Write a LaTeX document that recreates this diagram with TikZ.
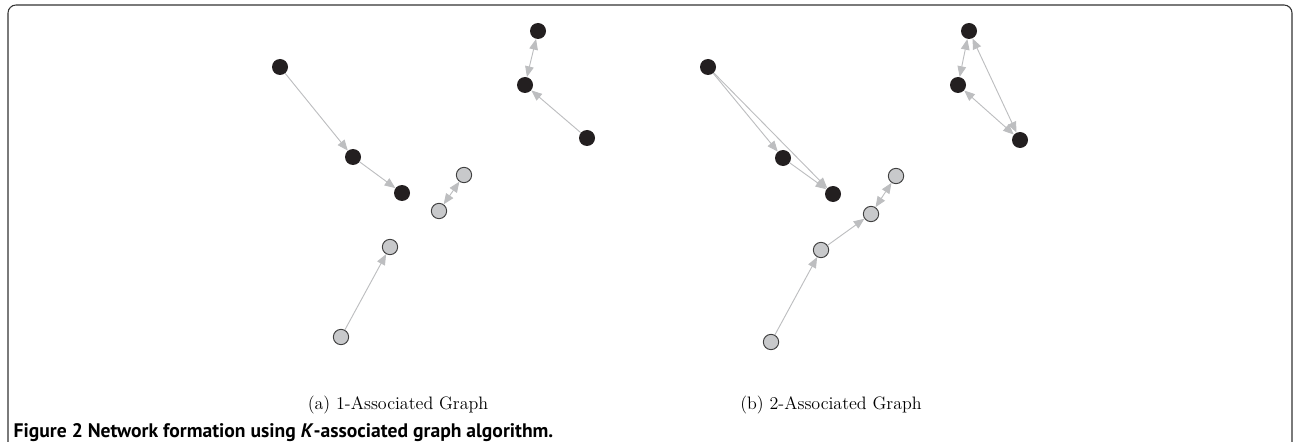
\documentclass[tikz,border=0pt]{standalone}
\usepackage{fontspec}
\newfontfamily\capfont{PT Sans}
\usepackage{tikz}
\usetikzlibrary{arrows.meta}

\definecolor{nodeblack}{HTML}{231F20}
\definecolor{nodegray}{HTML}{C8C9CB}
\definecolor{edgegray}{HTML}{BDBEC0}

\begin{document}
\begin{tikzpicture}[
    x=0.75pt, y=-0.75pt,
    blacknode/.style={circle, fill=nodeblack, inner sep=0pt, minimum size=12pt},
    graynode/.style={circle, draw=black!75, fill=nodegray, line width=0.7pt, inner sep=0pt, minimum size=11.5pt},
    line/.style={draw=edgegray, line width=0.7pt, -{Triangle[length=8pt,width=6.5pt,fill=edgegray]}},
    biline/.style={draw=edgegray, line width=0.7pt, {Triangle[length=8pt,width=6.5pt,fill=edgegray]}-{Triangle[length=8pt,width=6.5pt,fill=edgegray]}},
    subcap/.style={font=\fontsize{13.5}{16}\selectfont}
]
\useasboundingbox (0,0) rectangle (1294,442);

% Frame
\draw[black!80, line width=0.8pt, rounded corners=6pt] (8,443) -- (8,5) -- (1292,5) -- (1292,443);

% (a) 1-Associated Graph
\node[blacknode] (a1) at (280,67) {};
\node[blacknode] (a2) at (353,157) {};
\node[blacknode] (a3) at (402,193) {};
\node[blacknode] (a4) at (538,31) {};
\node[blacknode] (a5) at (525,85) {};
\node[blacknode] (a6) at (587,138) {};
\node[graynode] (g1) at (464,175) {};
\node[graynode] (g2) at (439,211) {};
\node[graynode] (g3) at (390,247) {};
\node[graynode] (g4) at (341,337) {};

\draw[line] (a1) -- (a2);
\draw[line] (a2) -- (a3);
\draw[biline] (a4) -- (a5);
\draw[line] (a6) -- (a5);
\draw[biline] (g1) -- (g2);
\draw[line] (g4) -- (g3);

% (b) 2-Associated Graph
\node[blacknode] (b1) at (708,67) {};
\node[blacknode] (b2) at (783,158) {};
\node[blacknode] (b3) at (833,194) {};
\node[blacknode] (b4) at (969,31) {};
\node[blacknode] (b5) at (958,85) {};
\node[blacknode] (b6) at (1020,140) {};
\node[graynode] (h1) at (896,176) {};
\node[graynode] (h2) at (871,214) {};
\node[graynode] (h3) at (821,250) {};
\node[graynode] (h4) at (771,342) {};

\draw[line] (b1) -- (b2);
\draw[line] (b1) -- (b3);
\draw[line] (b2) -- (b3);
\draw[biline] (b4) -- (b5);
\draw[biline] (b5) -- (b6);
\draw[biline] (b4) -- (b6);
\draw[biline] (h1) -- (h2);
\draw[line] (h3) -- (h2);
\draw[line] (h4) -- (h3);

% Captions
\node[subcap] (capa) at (398,405) {(a) 1-Associated Graph};
\node[subcap] (capb) at (831,405) {(b) 2-Associated Graph};
\node[anchor=base west, font=\capfont\bfseries\fontsize{14.7}{17}\selectfont] (fig) at (9,437)
    {Figure 2 Network formation using \textit{K}-associated graph algorithm.};

\end{tikzpicture}
\end{document}
